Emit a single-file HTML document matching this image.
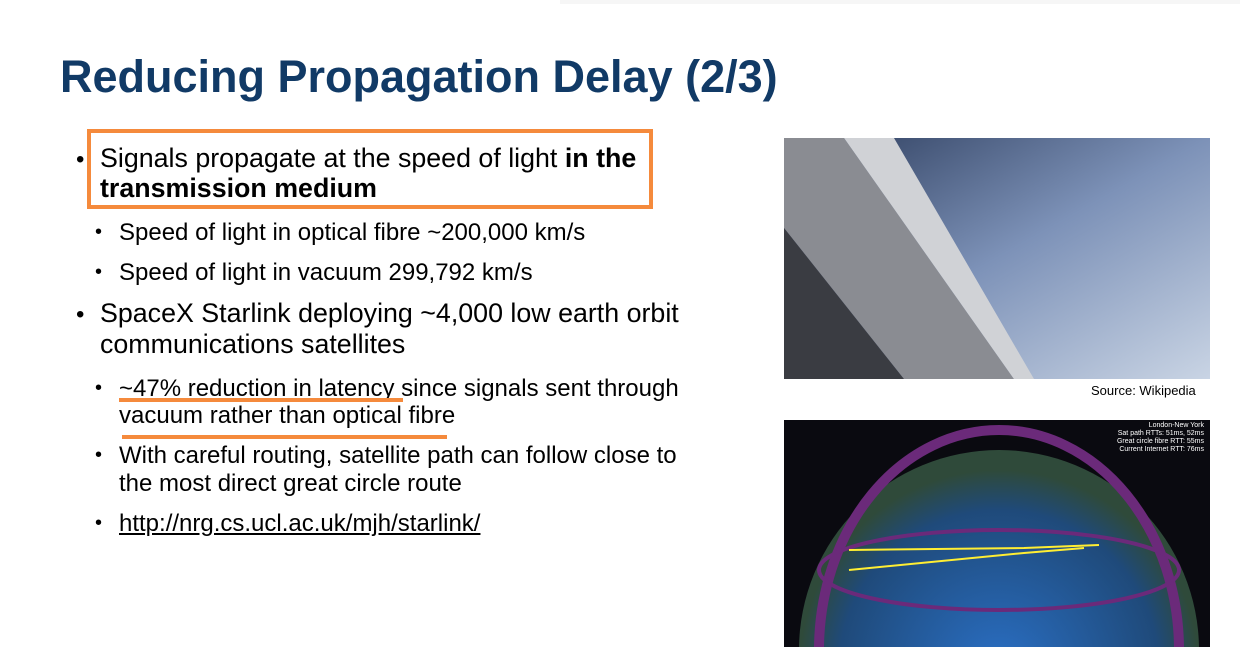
<!DOCTYPE html>
<html style="overflow:hidden"><head><meta charset="utf-8"><style>
html,body{margin:0;width:1240px;height:647px;overflow:hidden}
body{background:#fff;position:relative;font-family:"Liberation Sans",Arial,sans-serif;color:#000}
.a{position:absolute;white-space:nowrap}
svg.a{display:block}
.t{left:60px;top:51px;font-size:45px;font-weight:bold;color:#113a66}
.l1{font-size:26.8px;left:100px}
.l2{font-size:24px;left:119px}
.d1{font-size:24px;left:76px}
.d2{font-size:20px;left:95px}
</style></head><body>
<div class="a" style="left:560px;top:0;width:680px;height:4px;background:#f6f6f6"></div>
<div class="a t">Reducing Propagation Delay (2/3)</div>

<div class="a" style="left:87px;top:129px;width:558px;height:72px;border:4px solid #f58a3c"></div>
<div class="a d1" style="top:146px">•</div>
<div class="a l1" style="top:143px;line-height:30px">Signals propagate at the speed of light <b>in the<br>transmission medium</b></div>

<div class="a d2" style="top:221px">•</div>
<div class="a l2" style="top:219px">Speed of light in optical fibre ~200,000 km/s</div>
<div class="a d2" style="top:261px">•</div>
<div class="a l2" style="top:259px">Speed of light in vacuum 299,792 km/s</div>

<div class="a d1" style="top:301px">•</div>
<div class="a l1" style="top:298px;line-height:31px">SpaceX Starlink deploying ~4,000 low earth orbit<br>communications satellites</div>

<div class="a d2" style="top:377px">•</div>
<div class="a l2" style="top:375px;line-height:27px">~47% reduction in latency since signals sent through<br>vacuum rather than optical fibre</div>
<div class="a" style="left:119px;top:398px;width:284px;height:4px;background:#f58a3c"></div>
<div class="a" style="left:122px;top:435px;width:325px;height:4px;background:#f58a3c"></div>

<div class="a d2" style="top:444px">•</div>
<div class="a l2" style="top:442px;line-height:28px">With careful routing, satellite path can follow close to<br>the most direct great circle route</div>
<div class="a d2" style="top:512px">•</div>
<div class="a l2" style="top:510px;text-decoration:underline">http://nrg.cs.ucl.ac.uk/mjh/starlink/</div>

<svg class="a" style="left:784px;top:138px" width="426" height="241">
<defs><linearGradient id="e" x1="0" y1="0" x2="1" y2="1"><stop offset="0" stop-color="#2a3a5a"/><stop offset=".5" stop-color="#7d92b8"/><stop offset="1" stop-color="#c9d4e4"/></linearGradient></defs>
<rect width="426" height="241" fill="url(#e)"/>
<path d="M0 0 L60 0 L230 241 L120 241 L0 90 Z" fill="#8a8c92"/>
<path d="M60 0 L110 0 L250 241 L230 241 Z" fill="#d0d2d6"/>
<path d="M0 90 L120 241 L0 241 Z" fill="#3a3c42"/>
</svg>
<div class="a" style="left:1091px;top:383px;font-size:13px">Source: Wikipedia</div>

<svg class="a" style="left:784px;top:420px" width="426" height="227">
<defs><radialGradient id="g" cx=".5" cy=".55" r=".5"><stop offset="0" stop-color="#2a6fc4"/><stop offset=".8" stop-color="#1f4a7a"/><stop offset="1" stop-color="#2f4a3a"/></radialGradient></defs>
<rect width="426" height="227" fill="#0a0a10"/>
<circle cx="215" cy="230" r="200" fill="url(#g)"/>
<ellipse cx="215" cy="230" rx="180" ry="220" fill="none" stroke="#6b2a7a" stroke-width="10"/>
<ellipse cx="215" cy="150" rx="180" ry="40" fill="none" stroke="#6b2a7a" stroke-width="4"/>
<path d="M65 130 L240 128 L315 125 M65 150 L240 133 L300 128" stroke="#ffee33" stroke-width="2" fill="none"/>
<text x="420" y="7" font-size="7" fill="#fff" text-anchor="end" font-family="Liberation Sans">London-New York</text>
<text x="420" y="15" font-size="7" fill="#fff" text-anchor="end" font-family="Liberation Sans">Sat path RTTs: 51ms, 52ms</text>
<text x="420" y="23" font-size="7" fill="#fff" text-anchor="end" font-family="Liberation Sans">Great circle fibre RTT: 55ms</text>
<text x="420" y="31" font-size="7" fill="#fff" text-anchor="end" font-family="Liberation Sans">Current Internet RTT: 76ms</text>
</svg>
</body></html>
